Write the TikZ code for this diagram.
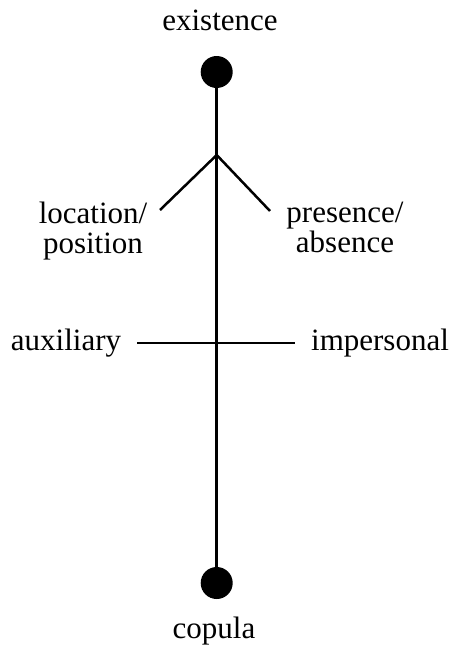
\documentclass[tikz,border=0pt]{standalone}
\usepackage{fontspec}
\setmainfont{Liberation Serif}
\begin{document}
\begin{tikzpicture}[x=1pt,y=-1pt,
  dot/.style={circle,fill=black,draw=none,minimum size=32pt,inner sep=0pt},
  lbl/.style={font=\fontsize{31}{30}\selectfont,align=center,inner sep=0pt,anchor=base},
  edge/.style={line width=2.5pt}]
\useasboundingbox (0,0) rectangle (455,645);
\node[dot] (top) at (216.7,72) {};
\node[dot] (bot) at (216.7,583) {};
\node[lbl] (exist) at (220,30) {existence};
\node[lbl] (cop) at (214,638) {copula};
\node[lbl] (loc) at (93,253) {location/\\position};
\node[lbl] (pres) at (345,252) {presence/\\absence};
\node[lbl] (aux) at (66,350) {auxiliary};
\node[lbl] (imp) at (380,350) {impersonal};
\coordinate (br) at (216.7,155);
\coordinate (lend) at (160,210);
\coordinate (rend) at (270,211);
\coordinate (hl) at (137,343);
\coordinate (hr) at (295,343);
\draw[edge] (top.center) -- (bot.center);
\draw[edge] (lend) -- (br) -- (rend);
\draw[edge] (hl) -- (hr);
\end{tikzpicture}
\end{document}
